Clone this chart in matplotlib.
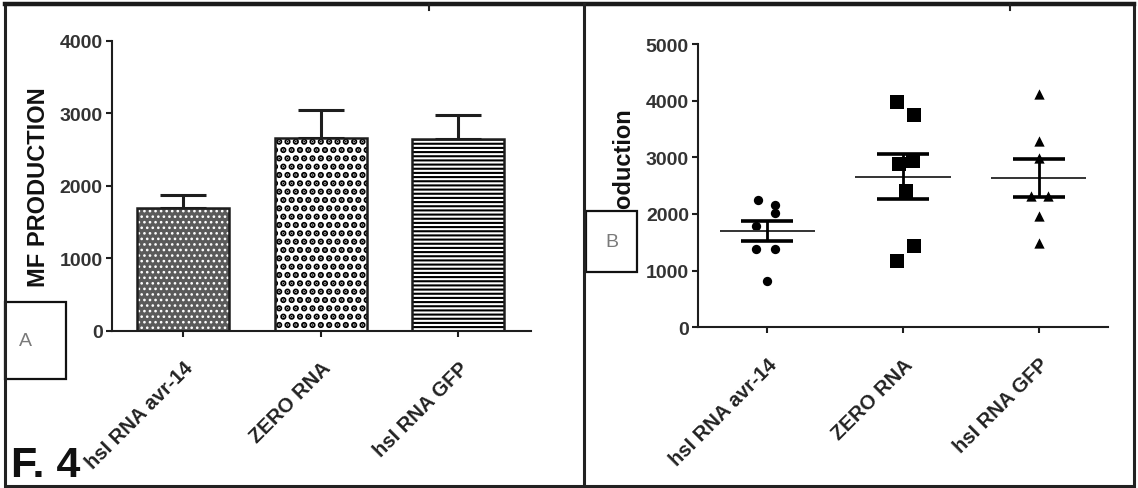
import matplotlib
matplotlib.use('Agg')
import matplotlib.pyplot as plt
from matplotlib.patches import Rectangle
from matplotlib.lines import Line2D
import numpy as np

plt.rcParams['font.family'] = ['Liberation Sans', 'DejaVu Sans']

# ---------------- data ----------------
categories = ["hsI RNA avr-14", "ZERO RNA", "hsI RNA GFP"]
mean_values = [1695, 2660, 2640]
sem_values = [176, 390, 338]
yticks_a = [0, 1000, 2000, 3000, 4000]
yticks_b = [0, 1000, 2000, 3000, 4000, 5000]

pts_avr14 = [2240, 2150, 2020, 1790, 1380, 1380, 810]
jit_avr14 = [-0.07, 0.06, 0.06, -0.08, -0.08, 0.06, 0.0]
pts_zero = [3970, 3740, 2940, 2880, 2410, 1440, 1175]
jit_zero = [-0.045, 0.08, 0.07, -0.03, 0.02, 0.08, -0.045]
pts_gfp = [4115, 3290, 2985, 2320, 2320, 1970, 1490]
jit_gfp = [0.0, 0.0, 0.0, -0.055, 0.07, 0.0, 0.0]

# ---------------- figure ----------------
W, H = 1138, 489
fig = plt.figure(figsize=(W / 100, H / 100), dpi=100)
fig.patch.set_facecolor('white')


def fx(px):
    return px / W


def fy(py):
    return 1 - py / H


ink = '#1e1e1e'


def style_axis(ax, ymax, yticks, xlim):
    for s in ['top', 'right']:
        ax.spines[s].set_visible(False)
    for s in ['left', 'bottom']:
        ax.spines[s].set_linewidth(1.5)
        ax.spines[s].set_color(ink)
    ax.set_ylim(0, ymax)
    ax.set_xlim(*xlim)
    ax.set_yticks(yticks)
    ax.set_yticklabels([str(v) for v in yticks], fontsize=14,
                       fontweight='bold', color='#333333')
    ax.tick_params(axis='y', direction='out', length=4.5, width=1.5,
                   pad=2, color=ink)
    ax.set_xticks(range(len(categories)))
    ax.set_xticklabels(categories, rotation=45, ha='right',
                       rotation_mode='anchor', fontsize=14.5,
                       fontweight='bold', color='#222222')
    ax.tick_params(axis='x', direction='out', length=4.5, width=1.5,
                   pad=15, color=ink)
    ax.patch.set_alpha(0)


x = np.arange(len(categories))

# ---------------- panel A : bars ----------------
axA = fig.add_axes([fx(111.7), fy(331.7), fx(531) - fx(111.7),
                    fy(41.7) - fy(331.7)])
style_axis(axA, 4000, yticks_a, (-0.521, 2.529))

axA.errorbar(x, mean_values, yerr=[np.zeros(len(x)), sem_values],
             fmt='none', ecolor=ink, elinewidth=2.2, capsize=16.5,
             capthick=2.2, zorder=1)

faces = ['#5a5a5a', 'white', 'white']
hatch_cols = ['white', 'black', 'black']
hatches = ['...', '..', '----']
hatch_lws = [1.1, 3.2, 1.5]
for i in range(len(x)):
    bc = axA.bar(x[i], mean_values[i], width=0.67, color=faces[i],
                 edgecolor=hatch_cols[i], hatch=hatches[i], linewidth=0,
                 zorder=2)
    for p in bc.patches:
        if hasattr(p, 'set_hatch_linewidth'):
            p.set_hatch_linewidth(hatch_lws[i])
axA.bar(x, mean_values, width=0.67, fill=False, edgecolor=ink,
        linewidth=1.8, zorder=3)

# ---------------- panel B : scatter ----------------
axB = fig.add_axes([fx(698), fy(328.3), fx(1108) - fx(698),
                    fy(45) - fy(328.3)])
style_axis(axB, 5000, yticks_b, (-0.51, 2.51))

groups = [(pts_avr14, jit_avr14, 'o', 45),
          (pts_zero, jit_zero, 's', 90),
          (pts_gfp, jit_gfp, '^', 55)]
for i, (p, j, m, s) in enumerate(groups):
    axB.scatter(i + np.array(j), p, marker=m, s=s, color='black',
                linewidths=0, zorder=3)
axB.hlines(mean_values, x - 0.35, x + 0.35, color='#333333', lw=1.4,
           zorder=4)
axB.errorbar(x, mean_values, yerr=sem_values, fmt='none', ecolor='black',
             elinewidth=2.0, capsize=18.5, capthick=2.6, zorder=4)

# ---------------- labels ----------------
fig.text(fx(39), fy(186.7), 'MF PRODUCTION', rotation=90, ha='center',
         va='center', fontsize=17, fontweight='bold', color='#111111')
fig.text(fx(623), fy(107), 'Production', rotation=90, ha='center',
         va='top', fontsize=17, fontweight='bold', color='#111111',
         zorder=2)
fig.text(fx(11), fy(477), 'F. 4', fontsize=31, fontweight='bold',
         ha='left', va='baseline', color='#111111')

# ---------------- frame and boxes ----------------
fig.add_artist(Rectangle((fx(5), fy(487)), fx(1134) - fx(5),
                         fy(5) - fy(487), transform=fig.transFigure,
                         fill=False, lw=2.2, ec='#222222', zorder=6))
fig.add_artist(Line2D([fx(5), fx(1134)], [fy(5), fy(5)],
                      transform=fig.transFigure, lw=3.2, color='#1a1a1a',
                      zorder=6))
fig.add_artist(Line2D([fx(584), fx(584)], [fy(5), fy(487)],
                      transform=fig.transFigure, lw=2.2, color='#222222',
                      zorder=6))
for tx in (429, 1010):
    fig.add_artist(Line2D([fx(tx), fx(tx)], [fy(5), fy(11)],
                          transform=fig.transFigure, lw=1.5,
                          color='#222222', zorder=6))

fig.add_artist(Rectangle((fx(5), fy(380)), fx(65.7) - fx(5),
                         fy(302.7) - fy(380), transform=fig.transFigure,
                         facecolor='white', lw=1.6, ec='#111111', zorder=5))
fig.text(fx(25), fy(341), 'A', ha='center', va='center', fontsize=14,
         color='#7a7a7a', zorder=7)
fig.add_artist(Rectangle((fx(585.7), fy(273)), fx(636.7) - fx(585.7),
                         fy(212) - fy(273), transform=fig.transFigure,
                         facecolor='white', lw=1.6, ec='#111111', zorder=5))
fig.text(fx(612), fy(243), 'B', ha='center', va='center', fontsize=14,
         color='#7a7a7a', zorder=7)

fig.savefig('out.png', dpi=100)
